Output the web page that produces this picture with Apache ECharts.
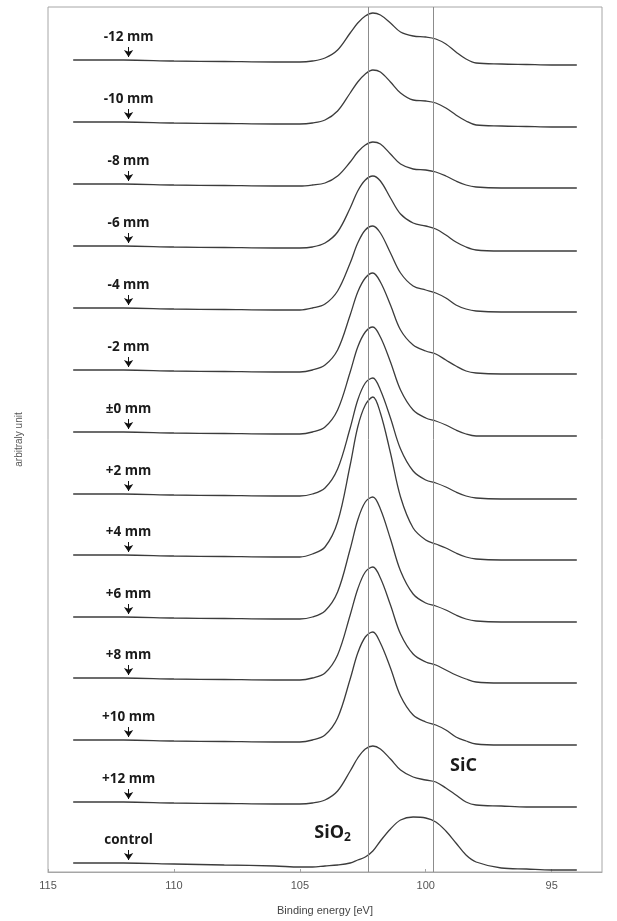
<!DOCTYPE html>
<html>
<head>
<meta charset="utf-8">
<script src="https://cdn.jsdelivr.net/npm/echarts@6/dist/echarts.min.js"></script>
<style>
html,body{margin:0;padding:0;background:#fff;}
#chart{width:617px;height:921px;}
</style>
</head>
<body>
<div id="chart"></div>
<script>
// Binding energy sample points [eV]
const energies = [114,112,110,108,106,105,104.5,104,103.5,103,102.7,102.4,102.1,101.8,101.4,101,100.5,100,99.6,99.2,98.8,98.4,98,97,96,95,94];
const xTicks = [95,100,105,110,115];
const traceLabels = ['-12 mm','-10 mm','-8 mm','-6 mm','-4 mm','-2 mm','\u00b10 mm','+2 mm','+4 mm','+6 mm','+8 mm','+10 mm','+12 mm','control'];
// vertical stacking offsets (arbitrary units)
const offsets = [812,750,688,626,564,502,440,378,317,255,194,132,70,9];
// intensities relative to each trace's own baseline
const m12 = [0,0,-1,-1.5,-2,-2,-1,2,10,27,37,44,47,45,37,28,24,23,21,16,8,1,-3,-4,-4.5,-5,-5];
const m10 = [0,0,-1,-1.5,-2,-2,-1,2,11,29,40,48,52,50,40,29,22,21,19,14,7,1,-3,-4,-4.5,-5,-5];
const m8  = [0,0,-1,-1.5,-2,-2,-1,1,8,22,32,39,42,40,30,20,15,14,12,8,3,-1,-3,-4,-4,-4,-4];
const m6  = [0,0,-1,-1.5,-2,-2,-1,3,14,38,55,66,70,65,48,32,23,20,17,11,4,-1,-4,-5,-5,-5,-5];
const m4  = [0,0,-1,-1.5,-2,-2,0,4,17,45,65,78,82,75,55,35,22,18,15,10,3,-1,-3,-4,-4,-4,-4];
const m2  = [0,0,-1,-1.5,-2,-2,0,5,20,55,78,92,97,88,65,40,25,19,16,10,4,-1,-3,-4,-4,-4,-4];
const z0  = [0,0,-1,-1.5,-2,-2,0,5,22,60,85,100,105,95,70,42,22,14,11,7,2,-2,-4,-4,-4,-4,-4];
const p2  = [0,0,-1,-1.5,-2,-2,0,6,25,66,94,111,116,104,76,45,23,14,11,7,2,-2,-4,-5,-5,-5,-5];
const p4  = [0,0,-1,-1.5,-2,-2,1,8,33,90,128,150,158,142,102,58,27,15,11,7,2,-2,-4,-5,-5,-5,-5];
const p6  = [0,0,-1,-1.5,-2,-2,0,6,25,68,97,115,120,108,78,46,23,14,11,7,2,-2,-4,-5,-5,-5,-5];
const p8  = [0,0,-1,-1.5,-2,-2,0,5,23,63,89,106,111,100,73,44,24,16,13,8,3,-1,-4,-5,-5,-5,-5];
const p10 = [0,0,-1,-1.5,-2,-2,0,5,22,61,87,103,108,97,72,44,25,18,15,10,3,-1,-4,-5,-5,-5,-5];
const p12 = [0,0,-1,-1.5,-2,-2,-1,2,11,31,44,53,56,53,43,32,25,22,20,14,7,0,-3,-4,-5,-5,-5];
const ctrl = [0,0,-1,-2,-3,-4,-4,-3,-2,0,3,6,12,22,34,43,46,45,41,32,20,8,1,-5,-6,-7,-7];
const traces = [m12,m10,m8,m6,m4,m2,z0,p2,p4,p6,p8,p10,p12,ctrl];
// reference lines and annotations
const refLines = [102.3, 99.7];
const arrowEnergy = 111.8;
const peakNotes = [{name:'SiO2', at:[103.7, 39]}, {name:'SiC', at:[98.5, 106]}];

const chart = echarts.init(document.getElementById('chart'), null, {renderer:'canvas'});
const lineColor = '#3c3c3c';

const series = traces.map((vals, i) => {
  const off = offsets[i];
  return {
    type: 'line',
    name: traceLabels[i],
    data: energies.map((e, k) => [e, vals[k] + off]),
    showSymbol: false,
    smooth: 0.35,
    lineStyle: {color: lineColor, width: 1.3},
    silent: true,
    z: 3,
    markLine: {
      silent: true,
      symbol: ['none', 'arrow'],
      symbolSize: 7,
      label: {show: false},
      itemStyle: {color: '#111'},
      lineStyle: {color: '#111', width: 1, type: 'solid'},
      data: [[{coord: [arrowEnergy, off + 13]}, {coord: [arrowEnergy, off + 3]}]]
    },
    markPoint: {
      silent: true,
      symbol: 'circle',
      symbolSize: 1,
      itemStyle: {color: 'rgba(0,0,0,0)'},
      label: {show: true, position: 'inside', formatter: traceLabels[i], color: '#1a1a1a',
              fontFamily: 'Open Sans', fontWeight: 'bold', fontSize: 13.5},
      data: [{coord: [arrowEnergy, off + 23]}]
    }
  };
});

// reference vertical lines + peak names
series.push({
  type: 'line', data: [], silent: true,
  markLine: {
    silent: true, symbol: 'none', label: {show: false},
    lineStyle: {color: '#8c8c8c', width: 1, type: 'solid'},
    data: refLines.map(v => ({xAxis: v}))
  },
  markPoint: {
    silent: true, symbol: 'circle', symbolSize: 1, itemStyle: {color: 'rgba(0,0,0,0)'},
    label: {
      show: true, position: 'inside', color: '#1a1a1a',
      formatter: p => p.name === 'SiO2' ? '{b|SiO}{s|2}' : '{b|SiC}',
      rich: {
        b: {fontFamily: 'Open Sans', fontWeight: 'bold', fontSize: 18, color: '#1a1a1a'},
        s: {fontFamily: 'Open Sans', fontWeight: 'bold', fontSize: 12, color: '#1a1a1a', padding: [10, 0, 0, 0]}
      }
    },
    data: peakNotes.map(n => ({name: n.name, coord: n.at}))
  }
});

chart.setOption({
  animation: false,
  backgroundColor: '#fff',
  grid: {left: 48, right: 15, top: 7, bottom: 49, show: true, borderColor: '#a6a6a6', borderWidth: 1},
  xAxis: {
    type: 'value', min: 93, max: 115, inverse: true,
    name: 'Binding energy [eV]', nameLocation: 'middle', nameGap: 33,
    nameTextStyle: {fontFamily: 'Liberation Sans', fontSize: 11, color: '#444'},
    axisLine: {show: true, lineStyle: {color: '#a6a6a6'}},
    axisTick: {show: true, inside: true, length: 3, customValues: xTicks, lineStyle: {color: '#a6a6a6'}},
    axisLabel: {customValues: xTicks, fontFamily: 'Liberation Sans', fontSize: 11, color: '#555', margin: 8},
    splitLine: {show: false}
  },
  yAxis: {
    type: 'value', min: 0, max: 865,
    name: 'arbitraly unit', nameLocation: 'middle', nameGap: 24,
    nameTextStyle: {fontFamily: 'Liberation Sans', fontSize: 10, color: '#555'},
    axisLine: {show: false}, axisTick: {show: false}, axisLabel: {show: false},
    splitLine: {show: false}
  },
  series: series
});
</script>
</body>
</html>
